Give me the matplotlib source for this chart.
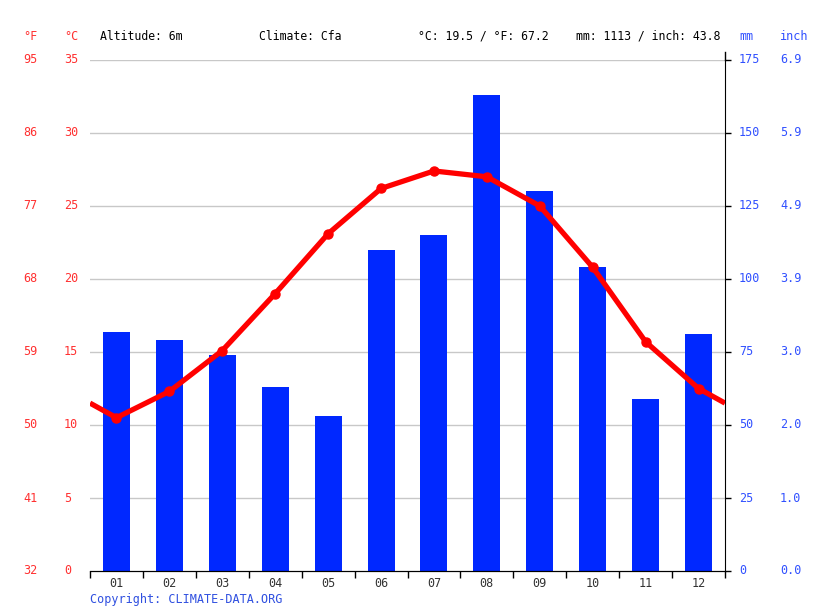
import matplotlib.pyplot as plt
import matplotlib.transforms as mtransforms
import numpy as np

months = ['01', '02', '03', '04', '05', '06', '07', '08', '09', '10', '11', '12']
temp_c = [10.5, 12.3, 15.1, 19.0, 23.1, 26.2, 27.4, 27.0, 25.0, 20.8, 15.7, 12.5]
precip_mm = [82, 79, 74, 63, 53, 110, 115, 163, 130, 104, 59, 81]
c_ticks = [0, 5, 10, 15, 20, 25, 30, 35]
mm_ticks = [0, 25, 50, 75, 100, 125, 150, 175]

header = ['Altitude: 6m', 'Climate: Cfa', '°C: 19.5 / °F: 67.2', 'mm: 1113 / inch: 43.8']

plt.rcParams['font.family'] = 'DejaVu Sans Mono'
RED = '#ff0000'
LBL_RED = '#ff3030'
BLUE = '#0028ff'
LBL_BLUE = '#3050ff'

fig = plt.figure(figsize=(8.15, 6.11), dpi=100)
ax = fig.add_axes([90 / 815, 40 / 611, 635 / 815, 511 / 611])
axt = ax.twinx()

x = np.arange(len(months))
ax.bar(x, precip_mm, width=0.51, color=BLUE, zorder=2)
ax.set_ylim(0, 175)
ax.set_xlim(-0.5, 11.5)

# temperature line wraps around the year at both edges
edge = (temp_c[0] + temp_c[-1]) / 2
lx = np.concatenate([[-0.5], x, [11.5]])
ly = np.concatenate([[edge], temp_c, [edge]])
axt.plot(lx, ly, color=RED, lw=3.8, solid_capstyle='butt', zorder=3)
axt.plot(x, temp_c, 'o', color=RED, ms=6.5, zorder=4)
axt.set_ylim(0, 35)

# grid
for v in mm_ticks[1:]:
    ax.axhline(v, color='#c8c8c8', lw=1, zorder=1)

# spines
for a in (ax, axt):
    for s in ['top', 'left', 'right']:
        a.spines[s].set_visible(False)
    a.spines['bottom'].set_color('black')
axt.spines['right'].set_visible(True)
axt.spines['right'].set_color('black')
# right axis line runs a little above the plot top
axt.plot([1, 1], [1, 1 + 8 / 511], transform=axt.transAxes, color='black',
         lw=1, clip_on=False)

ax.set_yticks([])
axt.set_yticks(c_ticks)
axt.set_yticklabels([])
axt.tick_params(axis='y', length=4, width=1, color='black', direction='out')

ax.set_xticks(np.arange(-0.5, 12, 1))
ax.set_xticklabels([])
ax.tick_params(axis='x', which='major', length=5, width=1, color='black')
ax.set_xticks(x, minor=True)
ax.set_xticklabels(months, minor=True, fontsize=8.5, color='#333333')
ax.tick_params(axis='x', which='minor', length=0, pad=4)

# axis labels on both sides
tr_c = mtransforms.blended_transform_factory(fig.transFigure, axt.transData)
for c in c_ticks:
    f = round(c * 9 / 5 + 32)
    fig.text(23.5 / 815, c, str(f), transform=tr_c, color=LBL_RED, fontsize=8.5,
             va='center', ha='left')
    fig.text(64 / 815, c, str(c), transform=tr_c, color=LBL_RED, fontsize=8.5,
             va='center', ha='left')
tr_m = mtransforms.blended_transform_factory(fig.transFigure, ax.transData)
for m in mm_ticks:
    fig.text(739 / 815, m, str(m), transform=tr_m, color=LBL_BLUE, fontsize=8.5,
             va='center', ha='left')
    fig.text(780 / 815, m, '%.1f' % (m / 25.4), transform=tr_m, color=LBL_BLUE,
             fontsize=8.5, va='center', ha='left')

# header row
hy = 1 - 36 / 611
fig.text(23.5 / 815, hy, '°F', color=LBL_RED, fontsize=8.5, va='center')
fig.text(64 / 815, hy, '°C', color=LBL_RED, fontsize=8.5, va='center')
for xp, t in zip([100, 259, 418, 576], header):
    fig.text(xp / 815, hy, t, color='black', fontsize=8.3, va='center')
fig.text(739 / 815, hy, 'mm', color=LBL_BLUE, fontsize=8.5, va='center')
fig.text(780 / 815, hy, 'inch', color=LBL_BLUE, fontsize=8.5, va='center')

fig.text(90 / 815, 1 - 599 / 611, 'Copyright: CLIMATE-DATA.ORG', color='#3050e0',
         fontsize=8.5, va='center')

fig.savefig('out.png', dpi=100)
